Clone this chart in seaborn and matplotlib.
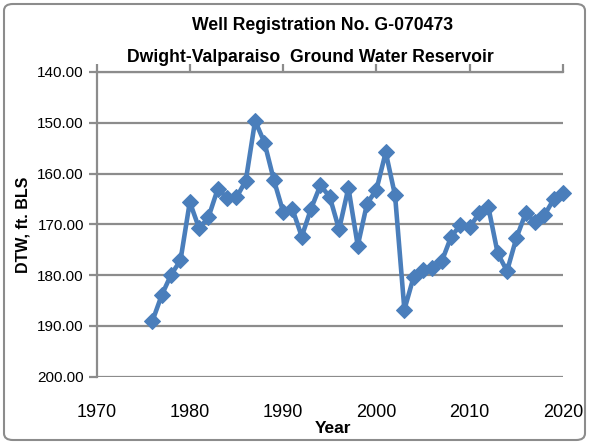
import matplotlib
matplotlib.use("Agg")
import matplotlib.pyplot as plt
import seaborn as sns
import pandas as pd
from matplotlib.patches import FancyBboxPatch

years = list(range(1976, 2021))
dtw = [189.0, 183.9, 179.9, 177.1, 165.6, 170.8, 168.6, 163.0, 164.8, 164.7,
       161.4, 149.6, 153.9, 161.2, 167.5, 167.0, 172.4, 166.9, 162.3, 164.6,
       171.0, 162.8, 174.2, 165.9, 163.2, 155.8, 164.3, 186.8, 180.3, 179.0,
       178.6, 177.3, 172.5, 170.1, 170.6, 167.8, 166.6, 175.7, 179.2, 172.7,
       167.8, 169.5, 168.2, 165.1, 163.8]
x_ticks = [1970, 1980, 1990, 2000, 2010, 2020]
y_ticks = [140, 150, 160, 170, 180, 190, 200]

df = pd.DataFrame({"Year": years, "DTW": dtw})

sns.set_theme(style="white")
plt.rcParams["font.family"] = ["Liberation Sans", "DejaVu Sans"]
plt.rcParams["text.color"] = "black"
plt.rcParams["axes.labelcolor"] = "black"

W, H = 589, 444
fig = plt.figure(figsize=(W / 100, H / 100), dpi=100)
left, right, top, bottom = 96.5, 563, 72, 376.7
ax = fig.add_axes([left / W, 1 - bottom / H, (right - left) / W, (bottom - top) / H])

blue = "#4a7ebb"
sns.lineplot(data=df, x="Year", y="DTW", ax=ax, color=blue, lw=3.3,
             marker="D", markersize=8.5, markeredgecolor=blue, markerfacecolor=blue,
             clip_on=False)

ax.set_xlim(1970, 2020)
ax.set_ylim(200, 140)
ax.set_xticks(x_ticks)
ax.set_yticks(y_ticks)
ax.set_yticklabels([f"{v:.2f}" for v in y_ticks], fontsize=11)
ax.set_xticklabels([str(v) for v in x_ticks], fontsize=13)
ax.yaxis.grid(True, color="#8c8c8c", lw=1.6)
ax.set_axisbelow(True)

for s in ["right", "bottom"]:
    ax.spines[s].set_visible(False)
for s in ["left", "top"]:
    ax.spines[s].set_color("#8c8c8c")
    ax.spines[s].set_linewidth(1.6)

ax.tick_params(axis="x", top=True, bottom=False, labelbottom=True, labeltop=False,
               direction="out", length=6, width=1.6, color="#8c8c8c",
               labelcolor="black", pad=14)
ax.tick_params(axis="y", left=True, direction="out", length=6, width=1.6,
               color="#8c8c8c", labelcolor="black", pad=3)

ax.set_xlabel("Year", fontsize=12.5, fontweight="bold", va="center")
ax.xaxis.set_label_coords((333 - left) / (right - left), -(428 - bottom) / (bottom - top))
ax.set_ylabel("DTW, ft. BLS", fontsize=11.5, fontweight="bold", va="center")
ax.yaxis.set_label_coords(-(left - 23) / (right - left), 0.5)

fig.text(323 / W, 1 - 25 / H, "Well Registration No. G-070473", ha="center",
         va="center", fontsize=12.7, fontweight="bold")
fig.text(310 / W, 1 - 57 / H, "Dwight-Valparaiso  Ground Water Reservoir", ha="center",
         va="center", fontsize=12.7, fontweight="bold")

border = FancyBboxPatch((4 / W, 4 / H), 581 / W, 436 / H,
                        boxstyle="round,pad=0,rounding_size=0.015",
                        transform=fig.transFigure, fill=False,
                        edgecolor="#8c8c8c", lw=1.5)
fig.patches.append(border)

fig.savefig("out.png", dpi=100)
